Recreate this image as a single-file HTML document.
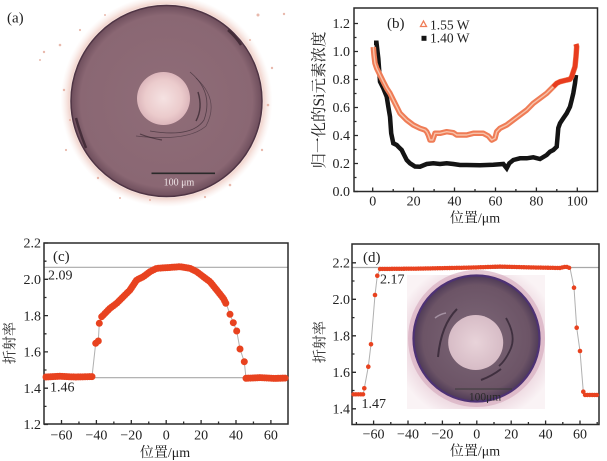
<!DOCTYPE html>
<html><head><meta charset="utf-8"><style>
html,body{margin:0;padding:0;background:#fff;}
svg{display:block;}
.t{font-family:"Liberation Serif","Noto Serif CJK SC",serif;fill:#222;}
</style></head><body>
<svg width="607" height="461" viewBox="0 0 607 461" xmlns="http://www.w3.org/2000/svg">
<defs>
<radialGradient id="core" cx="50%" cy="50%" r="50%"><stop offset="0" stop-color="#f5e2e2"/><stop offset="0.7" stop-color="#ebcbcc"/><stop offset="1" stop-color="#dcb6bb"/></radialGradient>
<radialGradient id="clad" cx="50%" cy="50%" r="50%"><stop offset="0" stop-color="#8f6d78"/><stop offset="0.9" stop-color="#8a6773"/><stop offset="1" stop-color="#6e4e5c"/></radialGradient>
<radialGradient id="halo" cx="50%" cy="50%" r="50%"><stop offset="0.88" stop-color="#e6b8ad" stop-opacity="0"/><stop offset="0.92" stop-color="#e8b6aa" stop-opacity="0.55"/><stop offset="1" stop-color="#f3d8d0" stop-opacity="0"/></radialGradient>
<radialGradient id="ring2" cx="50%" cy="50%" r="50%"><stop offset="0" stop-color="#7d6878"/><stop offset="0.85" stop-color="#6c5466"/><stop offset="1" stop-color="#4e3a56"/></radialGradient>
<radialGradient id="core2" cx="50%" cy="50%" r="50%"><stop offset="0" stop-color="#e8d3d9"/><stop offset="1" stop-color="#d7bcc6"/></radialGradient>
<radialGradient id="insetbg" cx="50%" cy="50%" r="60%"><stop offset="0.6" stop-color="#d8b2c4"/><stop offset="0.78" stop-color="#edd8e0"/><stop offset="1" stop-color="#faf3f5"/></radialGradient>
</defs>

<!-- ===== Panel (a) ===== -->
<circle cx="166.5" cy="101" r="106" fill="url(#halo)"/>
<g fill="#e3a898" opacity="0.8">
<circle cx="44" cy="52" r="1.2"/><circle cx="40" cy="60" r="1"/><circle cx="60" cy="45" r="1.3"/><circle cx="258" cy="15" r="1.5"/><circle cx="284" cy="14" r="1.2"/><circle cx="272" cy="68" r="1.2"/><circle cx="268" cy="105" r="1.3"/><circle cx="262" cy="150" r="1.2"/><circle cx="64" cy="90" r="1.2"/><circle cx="66" cy="150" r="1.1"/><circle cx="98" cy="178" r="1.2"/><circle cx="230" cy="185" r="1.3"/><circle cx="120" cy="198" r="1"/><circle cx="250" cy="40" r="1"/><circle cx="80" cy="30" r="1.1"/><circle cx="70" cy="120" r="1"/><circle cx="255" cy="125" r="1.1"/><circle cx="150" cy="200" r="1"/><circle cx="205" cy="197" r="1.1"/><circle cx="105" cy="15" r="1"/>
</g>
<circle cx="166.5" cy="101" r="95.5" fill="url(#clad)" stroke="#4f3444" stroke-width="1.5"/>
<path d="M76,118 Q80,133 86,148" fill="none" stroke="#3a2430" stroke-width="2.5" opacity="0.8"/>
<path d="M228,30 Q236,37 241,45" fill="none" stroke="#3a2430" stroke-width="2.5" opacity="0.8"/>
<circle cx="163.5" cy="98.5" r="26.5" fill="url(#core)"/>
<path d="M190,72 Q214,92 204,120 Q192,138 150,131" fill="none" stroke="#3b2b35" stroke-width="0.8" opacity="0.7"/>
<path d="M196,78 Q220,100 206,126 Q188,142 136,136" fill="none" stroke="#3b2b35" stroke-width="0.7" opacity="0.6"/>
<path d="M198,92 Q203,108 196,121" fill="none" stroke="#2e2028" stroke-width="1.4" opacity="0.7"/>
<path d="M140,134 Q150,138 162,140" fill="none" stroke="#2e2028" stroke-width="1.2" opacity="0.6"/>
<line x1="151.5" y1="173.3" x2="215" y2="173.3" stroke="#2a2a2a" stroke-width="1.6"/>
<text x="179" y="185.5" text-anchor="middle" font-size="10" style="font-family:'Liberation Serif',serif;fill:#eee4e6">100 μm</text>
<text class="t" x="7" y="22.5" font-size="15">(a)</text>

<!-- ===== Panel (b) ===== -->
<rect x="354" y="8" width="243.5" height="183.5" fill="none" stroke="#2a2a2a" stroke-width="1.5"/>
<path d="M354,191.5h4M354,163.5h4M354,135.5h4M354,107.5h4M354,79.5h4M354,51.5h4M354,23.5h4M354,177.5h2.5M354,149.5h2.5M354,121.5h2.5M354,93.5h2.5M354,65.5h2.5M354,37.5h2.5
M372.7,191.5v-4M413.6,191.5v-4M454.5,191.5v-4M495.5,191.5v-4M536.4,191.5v-4M577.3,191.5v-4M393.2,191.5v-2.5M434.1,191.5v-2.5M475,191.5v-2.5M515.9,191.5v-2.5M556.8,191.5v-2.5" stroke="#2a2a2a" stroke-width="1.3" fill="none"/>
<g class="t" font-size="14" text-anchor="end">
<text x="350" y="196.2">0.0</text><text x="350" y="168.2">0.2</text><text x="350" y="140.2">0.4</text><text x="350" y="112.2">0.6</text><text x="350" y="84.2">0.8</text><text x="350" y="56.2">1.0</text><text x="350" y="28.2">1.2</text>
</g>
<g class="t" font-size="14" text-anchor="middle">
<text x="372.7" y="205.4">0</text><text x="413.6" y="205.4">20</text><text x="454.5" y="205.4">40</text><text x="495.5" y="205.4">60</text><text x="536.4" y="205.4">80</text><text x="577.3" y="205.4">100</text>
<text x="475" y="222.5">位置/μm</text>
</g>
<text class="t" font-size="15.5" text-anchor="middle" transform="translate(318,100) rotate(-90)" y="5.8">归一化的Si元素浓度</text>
<!-- black 1.40 W -->
<polyline fill="none" stroke="#141414" stroke-width="4.5" stroke-linejoin="miter" points="374,42.7 376.5,42.7 378.3,58.3 380,81.7 383.3,88.3 386.7,96.7 388.3,106.7 390,116.7 391.2,133.3 393.3,143.3 396.7,145 398.3,146.7 401.7,150 403.3,153.3 406.7,160 410,163.3 415,166.5 420,166.7 426.7,164 433.3,163.3 440,164 446.7,163.3 453.3,164 460,165 466.7,165 480,165.3 493.3,164.7 503.3,164 506.7,168.3 509.3,163.3 513.3,160 520,158.3 526.7,158.3 533.3,157.3 540,159 546.7,155 550,151.7 553.3,150 556.7,146.7 558.3,128 560,123.3 563.3,118.3 566.7,113.3 570,106.7 571.7,100 573.3,93.3 575,83.3 576,75"/>
<!-- orange 1.55 W -->
<polyline fill="none" stroke="#ef7c56" stroke-width="5.5" stroke-linejoin="round" points="373.3,47 374,55 375,63.3 376.7,68.3 380,75 383.3,81.7 386.7,88.3 390,93.3 393.3,100 396.7,106.7 400,113.3 406.7,120 413.3,125 420,128.3 425,130 426.7,131.7 428.3,135 430,140 432.7,140 435,133.3 440,133.3 446.7,131.7 453.3,132.7 456.7,135 466.7,135 473.3,133.3 483.3,133.3 488.3,136 491.7,140 495,138.3 496.7,131.7 500,128.3 506.7,125 513.3,120 520,115 526.7,110 533.3,103.3 540,98.3 546.7,93.3 553.3,86.7 556.7,83.3 560,81.7 566.7,80 570,79.3 571.7,76.7 573.3,71.7 575,66.7 576,56.7 576.7,46.7 576,44"/>
<polyline fill="none" stroke="#f7c3aa" stroke-width="1.4" stroke-linejoin="round" points="373.3,47 374,55 375,63.3 376.7,68.3 380,75 383.3,81.7 386.7,88.3 390,93.3 393.3,100 396.7,106.7 400,113.3 406.7,120 413.3,125 420,128.3 425,130 426.7,131.7 428.3,135 430,140 432.7,140 435,133.3 440,133.3 446.7,131.7 453.3,132.7 456.7,135 466.7,135 473.3,133.3 483.3,133.3 488.3,136 491.7,140 495,138.3 496.7,131.7 500,128.3 506.7,125 513.3,120 520,115 526.7,110 533.3,103.3 540,98.3 546.7,93.3 553.3,86.7"/>
<polyline fill="none" stroke="#e83c1e" stroke-width="4.5" stroke-linejoin="round" points="553.3,86.7 556.7,83.3 560,81.7 566.7,80 570,79.3 571.7,76.7 573.3,71.7 575,66.7 576,56.7 576.7,46.7 576,44"/>
<!-- legend -->
<text class="t" x="387" y="28" font-size="15">(b)</text>
<polygon points="423.5,21 426.5,26.5 420.5,26.5" fill="none" stroke="#ef7c56" stroke-width="1.3"/>
<text class="t" x="430" y="29.5" font-size="13.5">1.55 W</text>
<rect x="421.5" y="35.8" width="5" height="5" fill="#141414"/>
<text class="t" x="430" y="42.5" font-size="13.5">1.40 W</text>

<!-- ===== Panel (c) ===== -->
<line x1="44" y1="267.3" x2="288" y2="267.3" stroke="#a8a8a8" stroke-width="1.2"/>
<line x1="44" y1="377.7" x2="288" y2="377.7" stroke="#a8a8a8" stroke-width="1.2"/>
<rect x="44" y="243" width="244" height="181" fill="none" stroke="#2a2a2a" stroke-width="1.5"/>
<path d="M44,243h4M44,279.3h4M44,315.6h4M44,351.9h4M44,388.2h4M44,424.5h4M44,261.2h2.5M44,297.5h2.5M44,333.8h2.5M44,370h2.5M44,406.4h2.5
M61.5,424v-4M96.4,424v-4M131.3,424v-4M166.2,424v-4M201.1,424v-4M236,424v-4M270.9,424v-4M78.95,424v-2.5M113.85,424v-2.5M148.75,424v-2.5M183.65,424v-2.5M218.55,424v-2.5M253.45,424v-2.5" stroke="#2a2a2a" stroke-width="1.3" fill="none"/>
<g class="t" font-size="14" text-anchor="end">
<text x="41" y="247.7">2.2</text><text x="41" y="284">2.0</text><text x="41" y="320.3">1.8</text><text x="41" y="356.6">1.6</text><text x="41" y="392.9">1.4</text><text x="41" y="429.2">1.2</text>
</g>
<g class="t" font-size="14" text-anchor="middle">
<text x="61.5" y="439.7">−60</text><text x="96.4" y="439.7">−40</text><text x="131.3" y="439.7">−20</text><text x="166.2" y="439.7">0</text><text x="201.1" y="439.7">20</text><text x="236" y="439.7">40</text><text x="270.9" y="439.7">60</text>
<text x="165" y="457">位置/μm</text>
</g>
<text class="t" font-size="14" text-anchor="middle" transform="translate(9,343) rotate(-90)" y="5.3">折射率</text>
<polyline fill="none" stroke="#b0b0b0" stroke-width="1" points="46,377 92,376.7 95.7,343.3 98.3,341 99.3,323.3 101.7,316.7 110,308.3 116.7,303.3 123.3,296.7 130,290 136.7,280 143.3,276.7 150,271.7 156.7,268.3 166.7,267.7 180,266.7 190,268.3 196.7,271.7 203.3,276.7 210,281.7 216.7,290 223.3,298.3 226.7,305 230,314.3 233.3,322.7 236.7,331 240,349 244.3,361.7 246,378.3 287,378"/>
<g fill="none" stroke="#e8421f" stroke-width="7" stroke-linecap="round" stroke-dasharray="0 2.3">
<path d="M46,377 L60,376.3 L75,377 L92,376.6"/>
<path d="M101.7,316.7 L110,308.3 L116.7,303.3 L123.3,296.7 L130,290 L136.7,280 L143.3,276.7 L150,271.7 L156.7,268.3 L166.7,267.7 L180,266.7 L190,268.3 L196.7,271.7 L203.3,276.7 L210,281.7 L216.7,290 L223.3,298.3 L226.7,305"/>
<path d="M246,378.3 L260,377.6 L275,378.4 L287,378"/>
</g>
<g fill="#e8421f">
<circle cx="95.7" cy="343.3" r="3.5"/><circle cx="98.3" cy="341" r="3.5"/><circle cx="99.3" cy="323.3" r="3.5"/>
<circle cx="230" cy="314.3" r="3.5"/><circle cx="233.3" cy="322.7" r="3.5"/><circle cx="236.7" cy="331" r="3.5"/><circle cx="240" cy="349" r="3.5"/><circle cx="244.3" cy="361.7" r="3.5"/>
</g>
<text class="t" x="53" y="261" font-size="15">(c)</text>
<text class="t" x="48" y="279.7" font-size="14">2.09</text>
<text class="t" x="50" y="391.4" font-size="14">1.46</text>

<!-- ===== Panel (d) ===== -->
<line x1="352" y1="267.5" x2="599" y2="267.5" stroke="#a8a8a8" stroke-width="1.2"/>
<!-- inset image -->
<rect x="407" y="275" width="138" height="134" fill="url(#insetbg)"/>
<circle cx="476.5" cy="338.5" r="66" fill="none" stroke="#d3a6bb" stroke-width="5" opacity="0.6"/>
<circle cx="476.5" cy="338.5" r="63" fill="url(#ring2)" stroke="#4d3274" stroke-width="2.2"/>
<circle cx="475.7" cy="342.5" r="27.5" fill="url(#core2)"/>
<path d="M457,309 Q441,325 438,357" fill="none" stroke="#2f2230" stroke-width="2" opacity="0.75"/>
<path d="M506,318 Q516,335 511,348 Q506,360 499,366" fill="none" stroke="#2f2230" stroke-width="1.8" opacity="0.75"/>
<path d="M481,380 Q492,376 501,369" fill="none" stroke="#2f2230" stroke-width="2" opacity="0.75"/>
<path d="M435,318 Q440,314 446,313" fill="none" stroke="#c8b8c8" stroke-width="1.5" opacity="0.6"/>
<line x1="455" y1="389" x2="512" y2="389" stroke="#3a3a3a" stroke-width="1"/>
<text x="485" y="400.5" text-anchor="middle" font-size="11.5" style="font-family:'Liberation Serif',serif;fill:#2a2a2a">100μm</text>
<rect x="352" y="244" width="247" height="180.5" fill="none" stroke="#2a2a2a" stroke-width="1.5"/>
<path d="M352,262.8h4M352,299.3h4M352,335.8h4M352,372.3h4M352,408.8h4M352,281h2.5M352,317.6h2.5M352,354h2.5M352,390.5h2.5
M373.6,424.5v-4M408,424.5v-4M442.4,424.5v-4M476.8,424.5v-4M511.2,424.5v-4M545.6,424.5v-4M580,424.5v-4M356.4,424.5v-2.5M390.8,424.5v-2.5M425.2,424.5v-2.5M459.6,424.5v-2.5M494,424.5v-2.5M528.4,424.5v-2.5M562.8,424.5v-2.5M597.2,424.5v-2.5" stroke="#2a2a2a" stroke-width="1.3" fill="none"/>
<g class="t" font-size="14" text-anchor="end">
<text x="350" y="267.5">2.2</text><text x="350" y="304">2.0</text><text x="350" y="340.5">1.8</text><text x="350" y="377">1.6</text><text x="350" y="413.5">1.4</text>
</g>
<g class="t" font-size="14" text-anchor="middle">
<text x="373.6" y="438.7">−60</text><text x="408" y="438.7">−40</text><text x="442.4" y="438.7">−20</text><text x="476.8" y="438.7">0</text><text x="511.2" y="438.7">20</text><text x="545.6" y="438.7">40</text><text x="580" y="438.7">60</text>
<text x="475" y="455.3">位置/μm</text>
</g>
<text class="t" font-size="14" text-anchor="middle" transform="translate(319,342) rotate(-90)" y="5.3">折射率</text>
<polyline fill="none" stroke="#b0b0b0" stroke-width="1" points="353.5,394.3 363.3,394.3 364.3,388.3 368.3,366.7 371,344.3 375,295 377.3,275.7 380,269 570,268 574,287.7 576.7,327.7 580,351 583.3,391.7 585,395 598,395"/>
<g fill="none" stroke="#e8421f" stroke-width="4.4" stroke-linecap="round" stroke-dasharray="0 2.4">
<path d="M353.5,394.3 L363.3,394.3"/>
<path d="M380,269 L420,268.6 L470,267.6 L500,266.6 L530,267.4 L560,268 L566,266.6 L570,268.2"/>
<path d="M585,395 L598,395"/>
</g>
<g fill="#e8421f">
<circle cx="364.3" cy="388.3" r="2.3"/><circle cx="368.3" cy="366.7" r="2.3"/><circle cx="371" cy="344.3" r="2.3"/><circle cx="375" cy="295" r="2.3"/><circle cx="377.3" cy="275.7" r="2.3"/>
<circle cx="574" cy="287.7" r="2.3"/><circle cx="576.7" cy="327.7" r="2.3"/><circle cx="580" cy="351" r="2.3"/><circle cx="583.3" cy="391.7" r="2.3"/>
</g>
<text class="t" x="363" y="262" font-size="15">(d)</text>
<text class="t" x="380" y="283.7" font-size="14">2.17</text>
<text class="t" x="361.5" y="408.2" font-size="14">1.47</text>
</svg>
</body></html>
